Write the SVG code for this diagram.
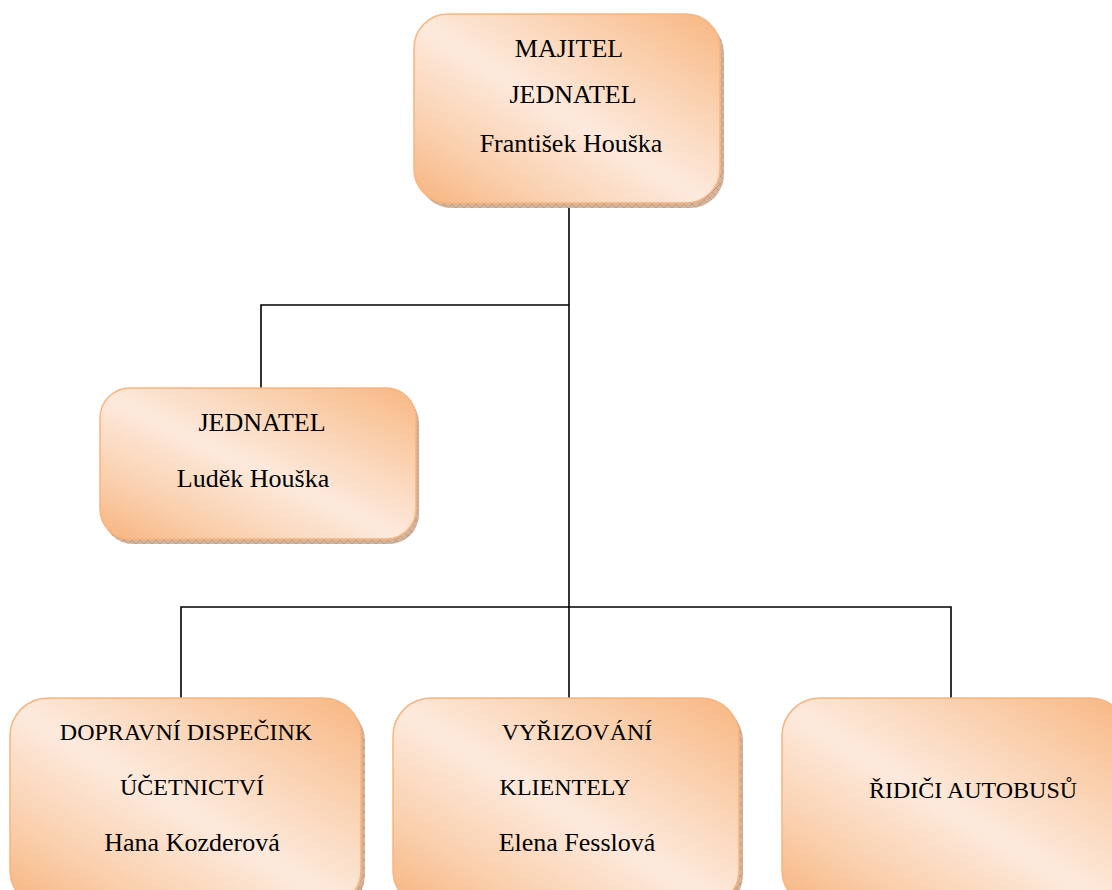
<svg xmlns="http://www.w3.org/2000/svg" width="1112" height="890" viewBox="0 0 1112 890">
<style>
.box{fill:url(#g);stroke:#F9B47E;stroke-width:1.5}
.sh{fill:url(#hatch)}
.t{font-family:"Liberation Serif","Times New Roman",serif;fill:#000;text-anchor:middle}
.n{font-size:26px}
.c{font-size:24px}
.ln{stroke:#000;stroke-width:1.6;fill:none}
</style>
<defs>
<linearGradient id="g" x1="1" y1="0" x2="0" y2="1">
<stop offset="0" stop-color="#F8B782"/>
<stop offset="0.25" stop-color="#FAD0AE"/>
<stop offset="0.52" stop-color="#FDEADD"/>
<stop offset="0.78" stop-color="#FAD0AE"/>
<stop offset="1" stop-color="#F7B47E"/>
</linearGradient>
<pattern id="hatch" width="8" height="8" patternUnits="userSpaceOnUse">
<rect width="8" height="8" fill="#D3B49C"/>
<path d="M0 0L8 8M8 0L0 8" stroke="#B98F72" stroke-width="0.6"/>
</pattern>
</defs>
<rect width="1112" height="890" fill="#fff"/>
<g id="connectors">
<path class="ln" d="M569 208V698"/>
<path class="ln" d="M569 305H261V388"/>
<path class="ln" d="M181 698V607H951V698"/>
</g>
<g id="n-majitel">
<rect class="sh" x="418" y="19" width="306" height="189" rx="34"/>
<rect class="box" x="414" y="14" width="306" height="189" rx="34"/>
<text class="t n" x="569" y="57">MAJITEL</text>
<text class="t n" x="573" y="103">JEDNATEL</text>
<text class="t n" x="571" y="152">František Houška</text>
</g>
<g id="n-jednatel">
<rect class="sh" x="103" y="393" width="316" height="151" rx="30"/>
<rect class="box" x="100" y="388" width="316" height="151" rx="30"/>
<text class="t n" x="262" y="431">JEDNATEL</text>
<text class="t n" x="253" y="487">Luděk Houška</text>
</g>
<g id="n-dispecink">
<rect class="sh" x="14" y="703" width="351" height="210" rx="38"/>
<rect class="box" x="10" y="698" width="351" height="210" rx="38"/>
<text class="t c" x="186" y="740">DOPRAVNÍ DISPEČINK</text>
<text class="t c" x="192" y="795">ÚČETNICTVÍ</text>
<text class="t n" x="192" y="851">Hana Kozderová</text>
</g>
<g id="n-klientely">
<rect class="sh" x="397" y="703" width="346" height="210" rx="38"/>
<rect class="box" x="393" y="698" width="346" height="210" rx="38"/>
<text class="t c" x="577" y="740">VYŘIZOVÁNÍ</text>
<text class="t c" x="565" y="795">KLIENTELY</text>
<text class="t n" x="577" y="851">Elena Fesslová</text>
</g>
<g id="n-ridici">
<rect class="sh" x="786" y="703" width="346" height="210" rx="38"/>
<rect class="box" x="782" y="698" width="346" height="210" rx="38"/>
<text class="t c" x="973" y="798">ŘIDIČI AUTOBUSŮ</text>
</g>
</svg>
